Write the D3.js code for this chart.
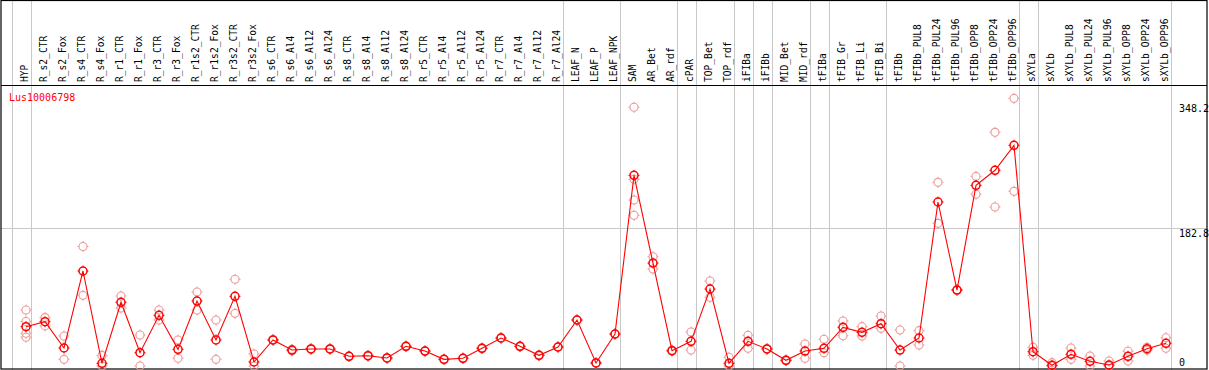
<!DOCTYPE html>
<html>
<head>
<meta charset="utf-8">
<script src="https://cdn.jsdelivr.net/npm/d3@7"></script>
<style>
  html, body { margin: 0; padding: 0; background: #fff; }
  svg { display: block; }
</style>
</head>
<body>
<script>
const title = "Lus10006798";
const categories = ["HYP","R_s2_CTR","R_s2_Fox","R_s4_CTR","R_s4_Fox","R_r1_CTR","R_r1_Fox","R_r3_CTR","R_r3_Fox","R_r1s2_CTR","R_r1s2_Fox","R_r3s2_CTR","R_r3s2_Fox","R_s6_CTR","R_s6_Al4","R_s6_Al12","R_s6_Al24","R_s8_CTR","R_s8_Al4","R_s8_Al12","R_s8_Al24","R_r5_CTR","R_r5_Al4","R_r5_Al12","R_r5_Al24","R_r7_CTR","R_r7_Al4","R_r7_Al12","R_r7_Al24","LEAF_N","LEAF_P","LEAF_NPK","SAM","AR_Bet","AR_rdf","cPAR","TOP_Bet","TOP_rdf","iFIBa","iFIBb","MID_Bet","MID_rdf","tFIBa","tFIB_Gr","tFIB_Li","tFIB_Bi","tFIBb","tFIBb_PUL8","tFIBb_PUL24","tFIBb_PUL96","tFIBb_OPP8","tFIBb_OPP24","tFIBb_OPP96","sXYLa","sXYLb","sXYLb_PUL8","sXYLb_PUL24","sXYLb_PUL96","sXYLb_OPP8","sXYLb_OPP24","sXYLb_OPP96"];
const means = [52,58.6,23.8,125.6,3.5,84.2,17.6,67,22,85.9,34.4,92.1,5.3,34.4,21.1,22.5,22.5,12.8,13.6,10.6,26,19.8,8.8,10.2,23.4,37,26,14.1,25.1,60.8,4,42.3,252,136,20.3,32.6,101.8,3.5,32.6,22.5,7.5,19.8,23.4,51.1,44.5,56,21.1,37,216.8,100.4,238.8,258.7,291.7,18.9,0.9,15.5,6.2,1.3,12.8,22.9,30];
const replicates = [[74,58.8,43.3,38],[64,53],[39.6,8.8],[158,93.4],[14,0],[92.5,76.7],[41,0],[74,60.8],[34.4,10.2],[97.8,74],[60.8,8.8],[114.6,69.6],[15.9,0],[35,34],[22,20],[23,22],[23,22],[13,12.6],[14,13],[11,10],[26.5,25.5],[20,19.5],[9,8.5],[10.5,10],[24,23],[37.5,36.5],[26.5,25.5],[14.5,13.7],[25.5,24.7],[61,60.5],[4.3,3.7],[42.7,42],[342,246.8,219.4,199.2],[144.5,128.2],[21,19.6],[45,21.1],[112.3,90.8],[11.5,0],[40.6,23.4],[23,22],[8,7],[29,10.2],[35.3,17.6],[59.5,40],[52,39.7],[66,49.8],[47.6,0],[46.7,27.8],[242.8,188.6],[101,100],[250.7,227],[308.9,210.2],[353.8,230.9],[24.7,14.1],[4.4,0],[23.8,8.8],[13.2,0],[6.6,0],[19.4,6.6],[24.7,21],[37.4,23.4]];
const groupEnds = ["HYP","R_r7_Al24","LEAF_NPK","AR_rdf","cPAR","TOP_rdf","iFIBa","iFIBb","MID_rdf","tFIBa","tFIB_Bi","tFIBb_OPP96","sXYLa","sXYLb_OPP96"];
const yTicks = [0, 182.8, 348.2];
const yGrid = [182.8];

const W = 1209, H = 370;
const svg = d3.select("body").append("svg").attr("width", W).attr("height", H);

const x = d3.scalePoint().domain(categories).range([26, 1166]);
const step = x.step();
const y = d3.scaleLinear().domain([0, 348.2]).range([366, 102.6]);

const mono = "'DejaVu Sans Mono', 'Liberation Mono', monospace";

// vertical separators
const sepX = [x(categories[0]) - step + 4.5].concat(groupEnds.map(c => x(c) + 4.5));
svg.append("g").selectAll("line").data(sepX).join("line")
  .attr("x1", d => Math.round(d) + 0.5).attr("x2", d => Math.round(d) + 0.5)
  .attr("y1", 0).attr("y2", H)
  .attr("stroke", "#c8c8c8").attr("stroke-width", 1);

// horizontal grid
svg.append("g").selectAll("line").data(yGrid).join("line")
  .attr("x1", 1).attr("x2", 1207)
  .attr("y1", d => Math.round(y(d)) + 0.5).attr("y2", d => Math.round(y(d)) + 0.5)
  .attr("stroke", "#c8c8c8").attr("stroke-width", 1);

// frame
svg.append("rect").attr("x", 1).attr("y", 0.5).attr("width", 1206).attr("height", 368.5)
  .attr("fill", "none").attr("stroke", "#000").attr("stroke-width", 1.2);
svg.append("line").attr("x1", 1).attr("x2", 1207).attr("y1", 85.5).attr("y2", 85.5)
  .attr("stroke", "#000").attr("stroke-width", 1.2);

// header labels
svg.append("g").selectAll("text").data(categories).join("text")
  .attr("transform", d => `translate(${x(d) - 1},82) rotate(-90)`)
  .attr("dy", "0.35em")
  .attr("font-family", mono).attr("font-size", "9.6px").attr("fill", "#000")
  .text(d => d);

// title
svg.append("text").attr("x", 9).attr("y", 101)
  .attr("font-family", mono).attr("font-size", "10px").attr("fill", "#ff0000")
  .text(title);

// y tick labels
svg.append("g").selectAll("text").data(yTicks).join("text")
  .attr("x", 1179)
  .attr("y", d => Math.min(y(d) + 9, 366))
  .attr("font-family", mono).attr("font-size", "10px").attr("fill", "#000")
  .text(d => d);

const tickPath = "M0,-5.5V-4M0,4V5.5M-5.5,0H-4M4,0H5.5";

// replicates
const repData = [];
replicates.forEach((arr, i) => arr.forEach(v => repData.push({c: categories[i], v})));
const rg = svg.append("g").selectAll("g").data(repData).join("g")
  .attr("transform", d => `translate(${x(d.c)},${y(d.v)})`);
rg.append("circle").attr("r", 4).attr("fill", "none").attr("stroke", "#ec9a9a").attr("stroke-width", 1.1);
rg.append("path").attr("d", tickPath).attr("stroke", "#ec9a9a").attr("stroke-width", 1);

// mean line
const line = d3.line().x((d, i) => x(categories[i])).y(d => y(d));
svg.append("path").datum(means).attr("d", line)
  .attr("fill", "none").attr("stroke", "#ff0000").attr("stroke-width", 1.1);

// mean markers
const mg = svg.append("g").selectAll("g").data(means).join("g")
  .attr("transform", (d, i) => `translate(${x(categories[i])},${y(d)})`);
mg.append("circle").attr("r", 4).attr("fill", "none").attr("stroke", "#ff0000").attr("stroke-width", 1.5);
mg.append("path").attr("d", tickPath).attr("stroke", "#ff0000").attr("stroke-width", 1);
</script>
</body>
</html>
